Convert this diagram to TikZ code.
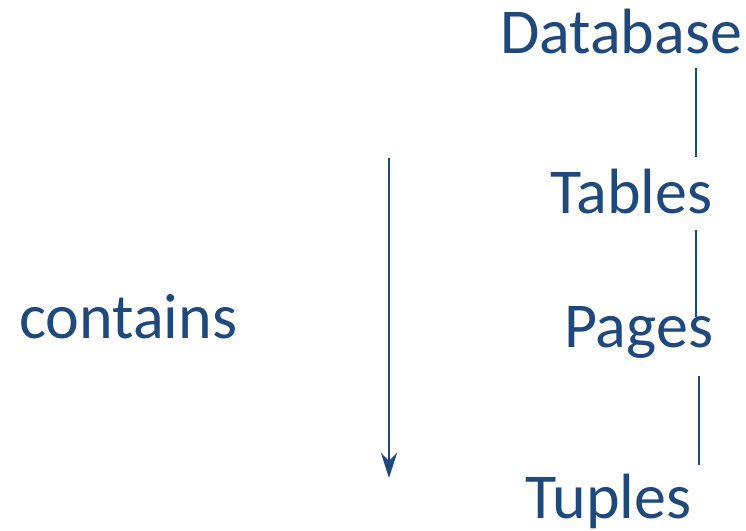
\documentclass[tikz,border=0pt]{standalone}
\usepackage{fontspec}
\setmainfont{Carlito}
\usetikzlibrary{arrows.meta}
\definecolor{ink}{RGB}{31,73,125}
\begin{document}
\begin{tikzpicture}[x=1pt,y=-1pt,
  lbl/.style={inner sep=0pt,anchor=base west,text=ink,font=\fontsize{64}{72}\selectfont},
  link/.style={draw=ink,line width=2pt},
  flow/.style={draw=ink,line width=2.8pt,-{Stealth[length=25pt,width=16pt,inset=8pt]}}]
  \useasboundingbox (0,0) rectangle (746,530);
  % level labels
  \node[lbl] (db)  at (500,53)  {Database};
  \node[lbl] (tab) at (550,213) {Tables};
  \node[lbl] (pg)  at (564,347) {Pages};
  \node[lbl] (tup) at (525,518) {Tuples};
  \node[lbl] (con) at (19,338)  {contains};
  % connector end points
  \coordinate (l1a) at (696,68);  \coordinate (l1b) at (696,157);
  \coordinate (l2a) at (696,230); \coordinate (l2b) at (696,317);
  \coordinate (l3a) at (699,376); \coordinate (l3b) at (699,465);
  \coordinate (ar1) at (389,158); \coordinate (ar2) at (389,478);
  \draw[link] (l1a) -- (l1b);
  \draw[link] (l2a) -- (l2b);
  \draw[link] (l3a) -- (l3b);
  \draw[flow] (ar1) -- (ar2);
\end{tikzpicture}
\end{document}
